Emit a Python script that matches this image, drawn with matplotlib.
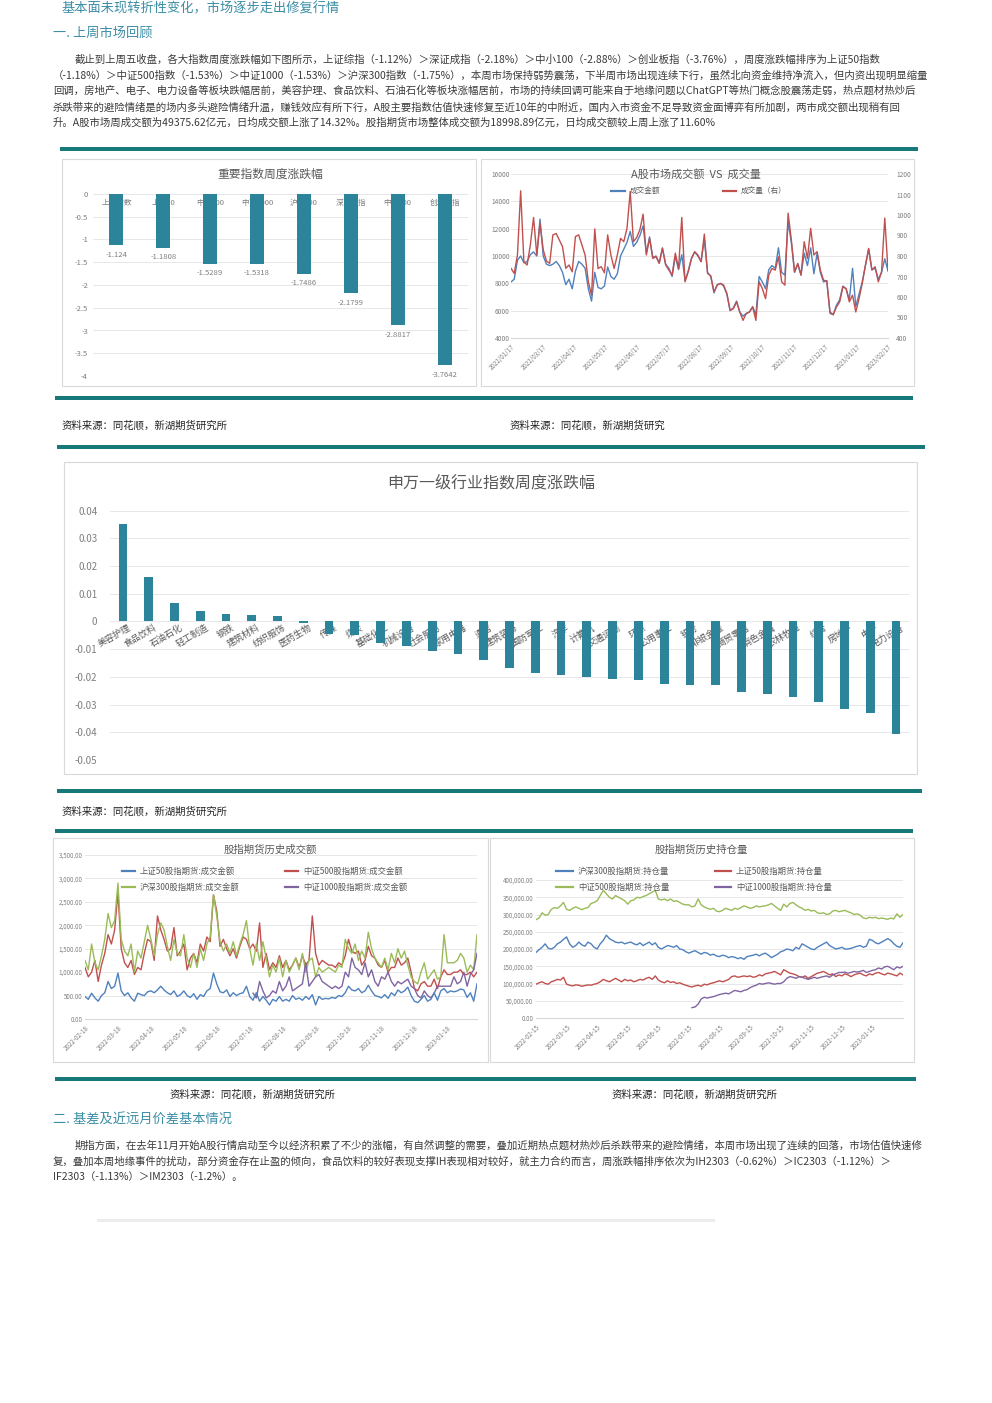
import numpy as np
import matplotlib
matplotlib.use('Agg')
import matplotlib.pyplot as plt
from matplotlib.patches import Rectangle
from matplotlib.lines import Line2D

plt.rcParams['font.family'] = ['Noto Sans CJK SC', 'DejaVu Sans']
plt.rcParams['axes.unicode_minus'] = False

# ---------------- 数据 ----------------
# 重要指数周度涨跌幅
idx_names = ['上证指数', '上证50', '中证500', '中证1000', '沪深300', '深证成指', '中小100', '创业板指']
idx_chg = [-1.124, -1.1808, -1.5289, -1.5318, -1.7486, -2.1799, -2.8817, -3.7642]

# A股市场成交额 VS 成交量
mkt_dates = ['2022/01/17', '2022/03/17', '2022/04/17', '2022/05/17', '2022/06/17', '2022/07/17',
             '2022/08/17', '2022/09/17', '2022/10/17', '2022/11/17', '2022/12/17', '2023/01/17', '2023/02/17']
mkt_amount = [8100, 8300, 9700, 10000, 9500, 9600, 10100, 10300, 10000, 12700,
              10000, 9400, 9300, 9400, 9600, 9300, 8800, 7900, 8300, 7600,
              8900, 9600, 9400, 9100, 7600, 6700, 8800, 7700, 7600, 7800,
              9200, 8500, 8300, 8700, 10000, 10500, 11000, 11800, 10700, 11000,
              11500, 12200, 10200, 11400, 9900, 10000, 9500, 10600, 9400, 9100,
              8500, 10000, 9000, 10100, 8200, 8900, 9800, 10300, 10000, 9600,
              11200, 8800, 8500, 7300, 7900, 8000, 7800, 7200, 6000, 6200,
              6700, 5900, 5600, 5800, 5900, 6300, 5700, 8500, 8100, 7600,
              9000, 9300, 9100, 10600, 8800, 8600, 12500, 11000, 8800, 9400,
              8600, 10200, 9300, 10600, 8700, 10200, 8800, 8100, 8200, 5800,
              5700, 6400, 6800, 7800, 7600, 6800, 9100, 6300, 7200, 8100,
              9300, 10500, 9000, 9100, 8300, 8800, 9800, 8900]
mkt_volume = [740, 715, 805, 1118, 772, 756, 854, 988, 805, 960,
              830, 775, 764, 903, 910, 878, 845, 740, 756, 723,
              895, 903, 854, 805, 674, 609, 932, 739, 748, 718,
              903, 805, 739, 805, 886, 870, 935, 1115, 870, 890,
              928, 1004, 805, 886, 788, 797, 764, 837, 756, 731,
              707, 814, 739, 988, 674, 723, 788, 821, 805, 772,
              907, 715, 703, 625, 658, 666, 658, 617, 535, 543,
              576, 527, 486, 519, 527, 551, 486, 674, 641, 592,
              707, 739, 731, 796, 674, 658, 1009, 878, 723, 764,
              707, 870, 788, 935, 805, 821, 731, 682, 678, 527,
              514, 551, 576, 650, 641, 576, 609, 527, 592, 666,
              756, 837, 731, 748, 674, 723, 985, 731]

# 申万一级行业指数周度涨跌幅
sw_names = ['美容护理', '食品饮料', '石油石化', '轻工制造', '钢铁', '建筑材料', '纺织服饰', '医药生物',
            '传媒', '煤炭', '基础化工', '机械设备', '社会服务', '家用电器', '通信', '建筑装饰',
            '国防军工', '汽车', '计算机', '交通运输', '环保', '公用事业', '银行', '非银金融',
            '商贸零售', '有色金属', '农林牧渔', '综合', '房地产', '电子', '电力设备']
sw_chg = [0.0352, 0.0162, 0.0068, 0.0037, 0.0026, 0.0025, 0.0020, -0.0007,
          -0.0046, -0.0048, -0.0076, -0.0090, -0.0108, -0.0119, -0.0138, -0.0167,
          -0.0187, -0.0193, -0.0202, -0.0209, -0.0210, -0.0227, -0.0228, -0.0230,
          -0.0256, -0.0263, -0.0272, -0.0292, -0.0316, -0.0330, -0.0407]

# 股指期货历史成交额
amt_dates = ['2022-02-18', '2022-03-18', '2022-04-18', '2022-05-18', '2022-06-18', '2022-07-18',
             '2022-08-18', '2022-09-18', '2022-10-18', '2022-11-18', '2022-12-18', '2023-01-18']
ih_amt = [480, 420, 550, 450, 380, 500, 560, 800, 650, 700,
          980, 600, 500, 560, 450, 380, 550, 520, 500, 580,
          600, 560, 620, 700, 620, 560, 520, 600, 480, 520,
          600, 500, 460, 540, 420, 520, 480, 600, 650, 980,
          750, 580, 560, 620, 480, 560, 500, 540, 560, 700,
          480, 400, 560, 380, 480, 400, 300, 420, 380, 480,
          380, 420, 380, 500, 420, 450, 400, 480, 420, 520,
          300, 480, 420, 440, 430, 460, 440, 500, 480, 560,
          700, 620, 600, 650, 560, 600, 720, 600, 500, 480,
          450, 520, 440, 560, 500, 620, 560, 600, 680, 500,
          380, 350, 420, 500, 380, 420, 560, 400, 600, 650,
          560, 600, 580, 600, 640, 620, 460, 560, 380, 750]
ic_amt = [1100, 900, 1000, 1250, 800, 1150, 1400, 1800, 1600, 1900,
          2700, 1500, 1200, 1100, 1250, 950, 1100, 1050, 1400, 1700,
          1650, 1250, 2200, 1900, 1700, 1450, 1500, 1950, 1350, 1450,
          1600, 1050, 1300, 1400, 1200, 1600, 1450, 1750, 1650, 2650,
          2300, 1550, 1700, 1500, 1350, 1500, 1300, 1550, 1750, 1700,
          1500, 1600, 1450, 2050, 1100, 1400, 1050, 1200, 1100, 1350,
          1100, 1250, 1050, 1150, 1300, 1100, 1350, 1150, 1250, 2200,
          1400, 1150, 1250, 1200, 1150, 1150, 1100, 1200, 1150, 1350,
          1700, 1450, 1400, 1450, 1150, 1250, 1550, 1350, 1300, 1150,
          1100, 1250, 1000, 1100, 1100, 1300, 1150, 1200, 1300, 1000,
          650, 600, 750, 800, 700, 700, 850, 650, 900, 1050,
          950, 950, 1000, 1000, 1050, 950, 950, 1000, 900, 1000]
if_amt = [1250, 1050, 1600, 1200, 1050, 1350, 1700, 2250, 1950, 2100,
          2900, 1700, 1450, 1350, 1600, 1000, 1450, 1300, 1650, 2000,
          1700, 1350, 1800, 2050, 1900, 1550, 1250, 1700, 1400, 1350,
          1800, 1300, 1100, 1400, 1100, 1500, 1250, 1600, 1750, 2650,
          2200, 1650, 1450, 1600, 1400, 1650, 1350, 1600, 1800, 2100,
          1500, 1150, 1600, 1250, 1650, 1300, 900, 1150, 1000, 1300,
          900, 1250, 1000, 1150, 1300, 1050, 1400, 1000, 1250, 1300,
          900, 1100, 1000, 1050, 1100, 1050, 1000, 1150, 1100, 1700,
          1500, 1400, 1600, 1250, 1450, 1300, 1850, 1500, 1300, 1200,
          1100, 1300, 1050, 1400, 1200, 1500, 1300, 1450, 1150, 900,
          800, 750, 1000, 1200, 850, 950, 1050, 850, 900, 1800,
          1200, 1200, 1200, 1250, 1400, 1300, 1000, 1150, 1050, 1800]
im_amt_start = 51
im_amt = [550, 450, 800, 600, 450, 500, 600, 550, 800,
          600, 700, 900, 600, 650, 700, 750, 1200, 700, 800,
          900, 950, 800, 750, 700, 650, 700, 650, 700, 1000,
          900, 1300, 1100, 1050, 950, 1200, 900, 1050, 800, 700,
          900, 850, 1000, 800, 700, 800, 750, 800, 850, 700,
          650, 500, 450, 600, 500, 450, 550, 700, 700, 700,
          700, 700, 900, 750, 800, 1000, 700, 950, 1050, 1400]

# 股指期货历史持仓量
oi_dates = ['2022-02-15', '2022-03-15', '2022-04-15', '2022-05-15', '2022-06-15', '2022-07-15',
            '2022-08-15', '2022-09-15', '2022-10-15', '2022-11-15', '2022-12-15', '2023-01-15']
if_oi = [190000, 198000, 205000, 215000, 202000, 200000, 205000, 215000, 220000, 228000,
         235000, 215000, 205000, 210000, 220000, 212000, 208000, 220000, 215000, 205000,
         200000, 215000, 225000, 240000, 230000, 225000, 220000, 218000, 220000, 215000,
         218000, 220000, 215000, 212000, 218000, 210000, 215000, 220000, 212000, 218000,
         205000, 200000, 205000, 210000, 208000, 205000, 210000, 200000, 198000, 192000,
         188000, 192000, 195000, 190000, 185000, 190000, 188000, 182000, 185000, 180000,
         178000, 182000, 180000, 175000, 178000, 176000, 172000, 175000, 170000, 178000,
         180000, 182000, 185000, 180000, 185000, 188000, 182000, 175000, 180000, 185000,
         192000, 195000, 200000, 198000, 195000, 205000, 200000, 215000, 210000, 205000,
         200000, 198000, 205000, 210000, 215000, 220000, 210000, 205000, 200000, 202000,
         205000, 200000, 200000, 202000, 205000, 208000, 210000, 205000, 208000, 228000,
         225000, 218000, 215000, 220000, 225000, 230000, 225000, 215000, 208000, 205000, 218000]
ih_oi = [98000, 102000, 105000, 100000, 98000, 105000, 108000, 112000, 110000, 118000,
         98000, 95000, 93000, 96000, 95000, 92000, 94000, 96000, 95000, 98000,
         100000, 105000, 112000, 108000, 105000, 110000, 115000, 110000, 105000, 112000,
         108000, 110000, 105000, 108000, 112000, 110000, 115000, 118000, 112000, 122000,
         110000, 105000, 102000, 108000, 103000, 105000, 100000, 102000, 98000, 95000,
         92000, 90000, 93000, 95000, 92000, 98000, 96000, 100000, 102000, 105000,
         108000, 105000, 108000, 112000, 120000, 122000, 118000, 120000, 122000, 120000,
         122000, 118000, 120000, 125000, 122000, 128000, 130000, 132000, 135000, 130000,
         125000, 140000, 135000, 130000, 128000, 125000, 120000, 118000, 122000, 115000,
         120000, 125000, 130000, 132000, 135000, 130000, 125000, 128000, 120000, 125000,
         122000, 128000, 125000, 120000, 125000, 128000, 130000, 125000, 122000, 128000,
         125000, 130000, 132000, 128000, 125000, 130000, 128000, 125000, 122000, 130000, 125000]
ic_oi = [285000, 290000, 305000, 298000, 300000, 315000, 320000, 318000, 325000, 335000,
         315000, 312000, 318000, 322000, 318000, 314000, 318000, 320000, 332000, 335000,
         340000, 355000, 370000, 360000, 350000, 345000, 355000, 350000, 345000, 340000,
         330000, 340000, 342000, 350000, 348000, 352000, 355000, 360000, 365000, 370000,
         345000, 342000, 345000, 340000, 345000, 338000, 340000, 335000, 330000, 328000,
         328000, 322000, 325000, 345000, 328000, 322000, 318000, 315000, 318000, 310000,
         308000, 312000, 318000, 315000, 312000, 318000, 315000, 320000, 325000, 322000,
         318000, 320000, 325000, 322000, 324000, 325000, 328000, 332000, 325000, 318000,
         312000, 330000, 322000, 332000, 335000, 328000, 322000, 318000, 312000, 315000,
         310000, 312000, 305000, 303000, 305000, 300000, 302000, 310000, 312000, 308000,
         310000, 312000, 308000, 305000, 300000, 302000, 298000, 290000, 288000, 292000,
         290000, 292000, 288000, 290000, 288000, 286000, 290000, 287000, 302000, 292000, 300000]
im_oi_start = 51
im_oi = [30000, 32000, 40000, 55000, 60000, 58000, 60000, 62000, 65000,
         68000, 70000, 72000, 70000, 75000, 80000, 78000, 76000, 80000, 82000,
         88000, 92000, 95000, 100000, 98000, 100000, 102000, 100000, 98000, 100000,
         100000, 105000, 115000, 120000, 118000, 115000, 120000, 118000, 115000, 112000,
         115000, 118000, 115000, 118000, 120000, 122000, 118000, 125000, 128000, 132000,
         132000, 133000, 130000, 132000, 135000, 133000, 135000, 138000, 132000, 135000,
         138000, 140000, 145000, 142000, 148000, 150000, 145000, 140000, 148000, 145000, 150000]

# ---------------- 画布 ----------------
W, H = 992, 1403
fig = plt.figure(figsize=(W / 100, H / 100), dpi=100)

TEAL = '#17797a'
HEAD = '#3b8ea5'
BODY = '#3a3a3a'
GRAY = '#595959'
TICK = '#7f7f7f'
GRID = '#e3e3e3'
BAR = '#2b8499'
BLUE, RED, GREEN, PURPLE = '#4f81bd', '#c0504d', '#9bbb59', '#8064a2'


def box(x0, y0, x1, y1):
    return [x0 / W, 1 - y1 / H, (x1 - x0) / W, (y1 - y0) / H]


def ftext(x, y, s, **kw):
    kw.setdefault('va', 'center')
    fig.text(x / W, 1 - y / H, s, **kw)


def hbar(x0, x1, y0, y1, color=TEAL):
    fig.add_artist(Rectangle((x0 / W, 1 - y1 / H), (x1 - x0) / W, (y1 - y0) / H,
                             transform=fig.transFigure, color=color, lw=0))


def frame(x0, y0, x1, y1):
    fig.add_artist(Rectangle((x0 / W, 1 - y1 / H), (x1 - x0) / W, (y1 - y0) / H,
                             transform=fig.transFigure, fill=False, edgecolor='#d9d9d9', lw=0.8))


def leg(x0, x1, y, color, label, size=6):
    fig.add_artist(Line2D([x0 / W, x1 / W], [1 - y / H, 1 - y / H], transform=fig.transFigure,
                          color=color, lw=1.6))
    ftext(x1 + 5, y, label, fontsize=size, color=GRAY)


def style(ax):
    for s in ax.spines.values():
        s.set_visible(False)
    ax.tick_params(length=0, colors=TICK)
    ax.grid(axis='y', color=GRID, lw=0.6)
    ax.set_axisbelow(True)


# ---------------- 正文 ----------------
ftext(62, 9, '基本面未现转折性变化，市场逐步走出修复行情', fontsize=9.5, color=HEAD)
ftext(53, 33, '一. 上周市场回顾', fontsize=9.5, color=HEAD)

para1 = [
    (75, 60, '截止到上周五收盘，各大指数周度涨跌幅如下图所示，上证综指（-1.12%）＞深证成指（-2.18%）＞中小100（-2.88%）＞创业板指（-3.76%），周度涨跌幅排序为上证50指数'),
    (53, 75, '（-1.18%）＞中证500指数（-1.53%）＞中证1000（-1.53%）＞沪深300指数（-1.75%），本周市场保持弱势震荡，下半周市场出现连续下行，虽然北向资金维持净流入，但内资出现明显缩量'),
    (53, 91, '回调，房地产、电子、电力设备等板块跌幅居前，美容护理、食品饮料、石油石化等板块涨幅居前，市场的持续回调可能来自于地缘问题以ChatGPT等热门概念股震荡走弱，热点题材热炒后'),
    (53, 107, '杀跌带来的避险情绪是的场内多头避险情绪升温，赚钱效应有所下行，A股主要指数估值快速修复至近10年的中附近，国内入市资金不足导致资金面博弈有所加剧，两市成交额出现稍有回'),
    (53, 123, '升。A股市场周成交额为49375.62亿元，日均成交额上涨了14.32%。股指期货市场整体成交额为18998.89亿元，日均成交额较上周上涨了11.60%'),
]
for x, y, s in para1:
    ftext(x, y, s, fontsize=7.5, color=BODY)

hbar(60, 918, 147, 151)

# ---------------- 图1 重要指数周度涨跌幅 ----------------
frame(62, 159, 476, 386)
ax1 = fig.add_axes(box(93, 194, 468, 376))
style(ax1)
x1 = np.arange(len(idx_names))
ax1.bar(x1, idx_chg, width=0.3, color=BAR, zorder=3)
for i, (n, v) in enumerate(zip(idx_names, idx_chg)):
    ax1.text(i, -0.2, n, ha='center', va='center', fontsize=5.5, color=TICK, zorder=2)
    ax1.text(i, v - 0.12, str(v), ha='center', va='top', fontsize=5.5, color=TICK)
ax1.set_xlim(-0.5, len(idx_names) - 0.5)
ax1.set_ylim(-4, 0)
ax1.set_xticks([])
yt = np.arange(0, -4.01, -0.5)
ax1.set_yticks(yt)
ax1.set_yticklabels(['0' if t == 0 else f'{t:g}' for t in yt], fontsize=5.5)
ftext(270, 174, '重要指数周度涨跌幅', fontsize=8.5, color=GRAY, ha='center')

# ---------------- 图2 A股市场成交额 VS 成交量 ----------------
frame(481, 159, 914, 386)
ax2 = fig.add_axes(box(511, 174, 888, 338))
style(ax2)
n2 = np.arange(len(mkt_amount))
ax2.plot(n2, mkt_amount, color=BLUE, lw=1.0)
ax2.set_ylim(4000, 16000)
ax2.set_yticks(np.arange(4000, 16001, 2000))
ax2.tick_params(axis='y', labelsize=4.8, pad=1)
ax2.set_xlim(0, len(mkt_amount) - 1)
ax2.set_xticks(np.linspace(0, len(mkt_amount) - 1, len(mkt_dates)))
ax2.set_xticklabels(mkt_dates, rotation=45, ha='right', rotation_mode='anchor', fontsize=4.5)
ax2.spines['bottom'].set_visible(True)
ax2.spines['bottom'].set_color('#d9d9d9')
ax2r = ax2.twinx()
for s in ax2r.spines.values():
    s.set_visible(False)
ax2r.plot(n2, mkt_volume, color=RED, lw=1.0)
ax2r.set_ylim(400, 1200)
ax2r.set_yticks(np.arange(400, 1201, 100))
ax2r.tick_params(length=0, colors=TICK, labelsize=4.8, pad=6)
ftext(696, 174, 'A股市场成交额  VS  成交量', fontsize=8, color=GRAY, ha='center')
leg(611, 625, 191, BLUE, '成交金额', size=5.5)
leg(723, 736, 191, RED, '成交量（右）', size=5.5)

hbar(55, 913, 396, 400)
ftext(62, 425, '资料来源：同花顺，新湖期货研究所', fontsize=7.5, color='#222222')
ftext(510, 425, '资料来源：同花顺，新湖期货研究', fontsize=7.5, color='#222222')
hbar(57, 925, 445, 449)

# ---------------- 图3 申万一级行业 ----------------
frame(64, 462, 917, 774)
ax3 = fig.add_axes(box(110, 510.7, 909, 760))
style(ax3)
x3 = np.arange(len(sw_names))
ax3.bar(x3, sw_chg, width=0.34, color=BAR, zorder=3)
for i, n in enumerate(sw_names):
    ax3.text(i + 0.2, -0.0006, n, rotation=30, ha='right', va='top', rotation_mode='anchor',
             fontsize=6.5, color=GRAY, zorder=2)
ax3.set_xlim(-0.5, len(sw_names) - 0.5)
ax3.set_ylim(-0.05, 0.04)
ax3.set_xticks([])
yt3 = np.round(np.arange(0.04, -0.0501, -0.01), 2)
ax3.set_yticks(yt3)
ax3.set_yticklabels(['0' if t == 0 else f'{t:.2f}' for t in yt3], fontsize=7)
ax3.tick_params(axis='y', pad=9)
ftext(491, 483, '申万一级行业指数周度涨跌幅', fontsize=11.5, color=GRAY, ha='center')

hbar(57, 922, 789, 793)
ftext(62, 811, '资料来源：同花顺，新湖期货研究所', fontsize=7.5, color='#222222')
hbar(55, 913, 829, 833)

# ---------------- 图4 股指期货历史成交额 ----------------
frame(53, 838, 488, 1062)
ax4 = fig.add_axes(box(85, 855, 477, 1019))
style(ax4)
n4 = np.arange(len(if_amt))
ax4.plot(n4, ic_amt, color=RED, lw=1.0)
ax4.plot(n4, if_amt, color=GREEN, lw=1.0)
ax4.plot(np.arange(im_amt_start, im_amt_start + len(im_amt)), im_amt, color=PURPLE, lw=1.0)
ax4.plot(n4, ih_amt, color=BLUE, lw=1.0)
ax4.set_ylim(0, 3500)
ax4.set_yticks(np.arange(0, 3501, 500))
ax4.set_yticklabels([f'{t:,.2f}' for t in np.arange(0, 3501, 500)], fontsize=4.5)
ax4.set_xlim(0, len(if_amt) - 1)
ax4.set_xticks(np.arange(0, len(amt_dates) * 10, 10))
ax4.set_xticklabels(amt_dates, rotation=45, ha='right', rotation_mode='anchor', fontsize=4.5)
ax4.tick_params(axis='y', pad=2)
ax4.spines['bottom'].set_visible(True)
ax4.spines['bottom'].set_color('#d9d9d9')
ftext(270, 850, '股指期货历史成交额', fontsize=7.5, color=GRAY, ha='center')
leg(122, 135, 871, BLUE, '上证50股指期货:成交金额')
leg(285, 298, 871, RED, '中证500股指期货:成交金额')
leg(122, 135, 887, GREEN, '沪深300股指期货:成交金额')
leg(285, 298, 887, PURPLE, '中证1000股指期货:成交金额')

# ---------------- 图5 股指期货历史持仓量 ----------------
frame(490, 838, 914, 1062)
ax5 = fig.add_axes(box(536, 880, 903, 1018))
style(ax5)
n5 = np.arange(len(if_oi))
ax5.plot(n5, ic_oi, color=GREEN, lw=1.0)
ax5.plot(n5, if_oi, color=BLUE, lw=1.0)
ax5.plot(n5, ih_oi, color=RED, lw=1.0)
ax5.plot(np.arange(im_oi_start, im_oi_start + len(im_oi)), im_oi, color=PURPLE, lw=1.0)
ax5.set_ylim(0, 400000)
ax5.set_yticks(np.arange(0, 400001, 50000))
ax5.set_yticklabels([f'{t:,.2f}' for t in np.arange(0, 400001, 50000)], fontsize=4.5)
ax5.set_xlim(0, len(if_oi) - 1)
ax5.set_xticks(np.arange(0, len(oi_dates) * 10, 10))
ax5.set_xticklabels(oi_dates, rotation=45, ha='right', rotation_mode='anchor', fontsize=4.5)
ax5.tick_params(axis='y', pad=2)
ax5.spines['bottom'].set_visible(True)
ax5.spines['bottom'].set_color('#d9d9d9')
ftext(701, 850, '股指期货历史持仓量', fontsize=7.5, color=GRAY, ha='center')
leg(556, 573, 871, BLUE, '沪深300股指期货:持仓量')
leg(715, 731, 871, RED, '上证50股指期货:持仓量')
leg(556, 573, 887, GREEN, '中证500股指期货:持仓量')
leg(715, 731, 887, PURPLE, '中证1000股指期货:持仓量')

hbar(55, 916, 1077, 1081)
ftext(170, 1094, '资料来源：同花顺，新湖期货研究所', fontsize=7.5, color='#222222')
ftext(612, 1094, '资料来源：同花顺，新湖期货研究所', fontsize=7.5, color='#222222')

# ---------------- 第二节 ----------------
ftext(53, 1119, '二. 基差及近远月价差基本情况', fontsize=9.5, color=HEAD)
para2 = [
    (75, 1145, '期指方面，在去年11月开始A股行情启动至今以经济积累了不少的涨幅，有自然调整的需要，叠加近期热点题材热炒后杀跌带来的避险情绪，本周市场出现了连续的回落，市场估值快速修'),
    (53, 1161, '复，叠加本周地缘事件的扰动，部分资金存在止盈的倾向，食品饮料的较好表现支撑IH表现相对较好，就主力合约而言，周涨跌幅排序依次为IH2303（-0.62%）＞IC2303（-1.12%）＞'),
    (53, 1177, 'IF2303（-1.13%）＞IM2303（-1.2%）。'),
]
for x, y, s in para2:
    ftext(x, y, s, fontsize=7.5, color=BODY)

hbar(97, 715, 1219, 1222, color='#ececec')

fig.savefig('out.png', dpi=100)
